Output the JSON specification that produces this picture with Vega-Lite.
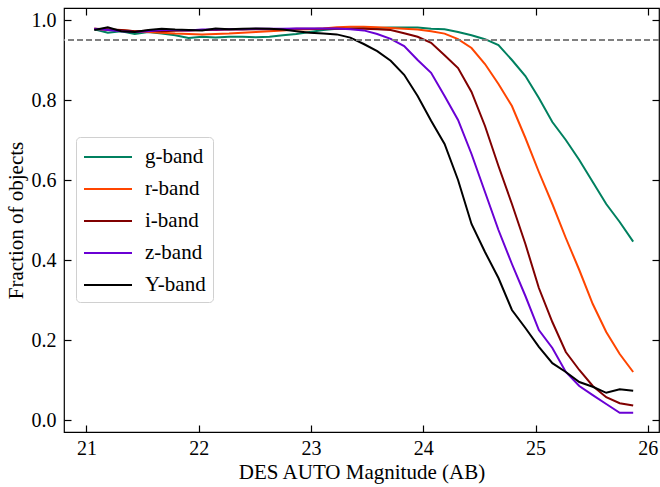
{
  "$schema": "https://vega.github.io/schema/vega-lite/v6.json",
  "width": 595,
  "height": 424,
  "autosize": {"type": "none"},
  "padding": {"left": 64, "top": 8, "right": 1, "bottom": 55},
  "background": "white",
  "config": {
    "view": {"stroke": "black", "strokeWidth": 1.2},
    "axis": {
      "domain": false, "grid": false, "tickColor": "black", "tickSize": -7, "tickWidth": 1.2,
      "labelFont": "Liberation Serif", "labelFontSize": 20, "labelColor": "black",
      "titleFont": "Liberation Serif", "titleFontSize": 21, "titleFontWeight": "normal", "titleColor": "black"
    }
  },
  "datasets": {
    "d": [
      {"m": 21.07, "g-band": 0.977, "r-band": 0.978, "i-band": 0.978, "z-band": 0.978, "Y-band": 0.975},
      {"m": 21.19, "g-band": 0.968, "r-band": 0.975, "i-band": 0.977, "z-band": 0.975, "Y-band": 0.982},
      {"m": 21.31, "g-band": 0.972, "r-band": 0.975, "i-band": 0.975, "z-band": 0.972, "Y-band": 0.972},
      {"m": 21.43, "g-band": 0.965, "r-band": 0.972, "i-band": 0.972, "z-band": 0.970, "Y-band": 0.970},
      {"m": 21.55, "g-band": 0.970, "r-band": 0.970, "i-band": 0.973, "z-band": 0.972, "Y-band": 0.975},
      {"m": 21.67, "g-band": 0.966, "r-band": 0.968, "i-band": 0.972, "z-band": 0.975, "Y-band": 0.978},
      {"m": 21.79, "g-band": 0.962, "r-band": 0.966, "i-band": 0.973, "z-band": 0.975, "Y-band": 0.976},
      {"m": 21.91, "g-band": 0.955, "r-band": 0.965, "i-band": 0.974, "z-band": 0.974, "Y-band": 0.975},
      {"m": 22.03, "g-band": 0.958, "r-band": 0.964, "i-band": 0.975, "z-band": 0.976, "Y-band": 0.974},
      {"m": 22.15, "g-band": 0.956, "r-band": 0.965, "i-band": 0.975, "z-band": 0.976, "Y-band": 0.979},
      {"m": 22.27, "g-band": 0.958, "r-band": 0.966, "i-band": 0.976, "z-band": 0.977, "Y-band": 0.977},
      {"m": 22.39, "g-band": 0.958, "r-band": 0.968, "i-band": 0.976, "z-band": 0.977, "Y-band": 0.978},
      {"m": 22.51, "g-band": 0.957, "r-band": 0.970, "i-band": 0.977, "z-band": 0.978, "Y-band": 0.979},
      {"m": 22.63, "g-band": 0.958, "r-band": 0.972, "i-band": 0.977, "z-band": 0.978, "Y-band": 0.978},
      {"m": 22.75, "g-band": 0.962, "r-band": 0.974, "i-band": 0.977, "z-band": 0.978, "Y-band": 0.976},
      {"m": 22.87, "g-band": 0.965, "r-band": 0.976, "i-band": 0.978, "z-band": 0.979, "Y-band": 0.972},
      {"m": 22.99, "g-band": 0.970, "r-band": 0.977, "i-band": 0.978, "z-band": 0.979, "Y-band": 0.968},
      {"m": 23.11, "g-band": 0.975, "r-band": 0.979, "i-band": 0.978, "z-band": 0.979, "Y-band": 0.966},
      {"m": 23.23, "g-band": 0.978, "r-band": 0.982, "i-band": 0.978, "z-band": 0.979, "Y-band": 0.964},
      {"m": 23.35, "g-band": 0.979, "r-band": 0.983, "i-band": 0.978, "z-band": 0.977, "Y-band": 0.956},
      {"m": 23.47, "g-band": 0.980, "r-band": 0.983, "i-band": 0.978, "z-band": 0.974, "Y-band": 0.940},
      {"m": 23.59, "g-band": 0.980, "r-band": 0.982, "i-band": 0.977, "z-band": 0.965, "Y-band": 0.922},
      {"m": 23.71, "g-band": 0.981, "r-band": 0.980, "i-band": 0.975, "z-band": 0.953, "Y-band": 0.898},
      {"m": 23.83, "g-band": 0.981, "r-band": 0.978, "i-band": 0.967, "z-band": 0.935, "Y-band": 0.863},
      {"m": 23.95, "g-band": 0.981, "r-band": 0.976, "i-band": 0.958, "z-band": 0.900, "Y-band": 0.810},
      {"m": 24.07, "g-band": 0.978, "r-band": 0.972, "i-band": 0.943, "z-band": 0.868, "Y-band": 0.748},
      {"m": 24.19, "g-band": 0.977, "r-band": 0.966, "i-band": 0.912, "z-band": 0.810, "Y-band": 0.690},
      {"m": 24.31, "g-band": 0.970, "r-band": 0.952, "i-band": 0.880, "z-band": 0.750, "Y-band": 0.600},
      {"m": 24.43, "g-band": 0.962, "r-band": 0.930, "i-band": 0.820, "z-band": 0.665, "Y-band": 0.490},
      {"m": 24.55, "g-band": 0.952, "r-band": 0.890, "i-band": 0.735, "z-band": 0.570, "Y-band": 0.420},
      {"m": 24.67, "g-band": 0.937, "r-band": 0.840, "i-band": 0.635, "z-band": 0.475, "Y-band": 0.355},
      {"m": 24.79, "g-band": 0.900, "r-band": 0.785, "i-band": 0.540, "z-band": 0.390, "Y-band": 0.275},
      {"m": 24.91, "g-band": 0.860, "r-band": 0.705, "i-band": 0.440, "z-band": 0.310, "Y-band": 0.230},
      {"m": 25.03, "g-band": 0.805, "r-band": 0.620, "i-band": 0.330, "z-band": 0.225, "Y-band": 0.183},
      {"m": 25.15, "g-band": 0.745, "r-band": 0.540, "i-band": 0.245, "z-band": 0.180, "Y-band": 0.142},
      {"m": 25.27, "g-band": 0.700, "r-band": 0.455, "i-band": 0.170, "z-band": 0.120, "Y-band": 0.120},
      {"m": 25.39, "g-band": 0.650, "r-band": 0.375, "i-band": 0.125, "z-band": 0.085, "Y-band": 0.095},
      {"m": 25.51, "g-band": 0.595, "r-band": 0.290, "i-band": 0.085, "z-band": 0.062, "Y-band": 0.083},
      {"m": 25.63, "g-band": 0.540, "r-band": 0.220, "i-band": 0.057, "z-band": 0.040, "Y-band": 0.068},
      {"m": 25.75, "g-band": 0.495, "r-band": 0.165, "i-band": 0.042, "z-band": 0.018, "Y-band": 0.077},
      {"m": 25.87, "g-band": 0.446, "r-band": 0.120, "i-band": 0.036, "z-band": 0.018, "Y-band": 0.073}
    ]
  },
  "data": {"name": "d"},
  "resolve": {"axis": {"x": "independent", "y": "independent"}},
  "layer": [
    {
      "transform": [{"fold": ["g-band", "r-band", "i-band", "z-band", "Y-band"], "as": ["band", "frac"]}],
      "mark": {"type": "line", "strokeWidth": 2},
      "encoding": {
        "x": {"field": "m", "type": "quantitative",
              "scale": {"domain": [20.8, 26.1], "nice": false, "zero": false},
              "axis": {"title": "DES AUTO Magnitude (AB)", "values": [21, 22, 23, 24, 25, 26], "format": "d", "labelPadding": 13, "titlePadding": 3}},
        "y": {"field": "frac", "type": "quantitative",
              "scale": {"domain": [-0.03, 1.03], "nice": false, "zero": false},
              "axis": {"title": "Fraction of objects", "values": [0, 0.2, 0.4, 0.6, 0.8, 1.0], "format": ".1f", "labelPadding": 15, "titlePadding": 5}},
        "color": {"field": "band", "type": "nominal",
                  "scale": {"domain": ["g-band", "r-band", "i-band", "z-band", "Y-band"], "range": ["#00805f", "#ff4500", "#800000", "#6a00d4", "#000000"]},
                  "legend": {"title": null, "orient": "none", "legendX": 12, "legendY": 129,
                             "symbolType": "M-1,0H3", "symbolSize": 576, "symbolStrokeWidth": 2,
                             "labelFont": "Liberation Serif", "labelFontSize": 21, "labelColor": "black", "labelOffset": 36, "labelLimit": 0,
                             "rowPadding": 9, "padding": 7, "fillColor": "white", "strokeColor": "#d0d0d0", "cornerRadius": 4}},
        "order": {"field": "m", "type": "quantitative"}
      }
    },
    {
      "mark": {"type": "rule", "color": "#808080", "strokeDash": [6, 3], "strokeWidth": 1.5},
      "encoding": {"y": {"datum": 0.95, "type": "quantitative", "axis": null}}
    },
    {
      "mark": {"type": "point", "opacity": 0},
      "encoding": {
        "x": {"field": "m", "type": "quantitative", "axis": {"orient": "top", "labels": false, "title": null, "values": [21, 22, 23, 24, 25, 26]}},
        "y": {"field": "Y-band", "type": "quantitative", "axis": {"orient": "right", "labels": false, "title": null, "values": [0, 0.2, 0.4, 0.6, 0.8, 1.0]}}
      }
    }
  ]
}
